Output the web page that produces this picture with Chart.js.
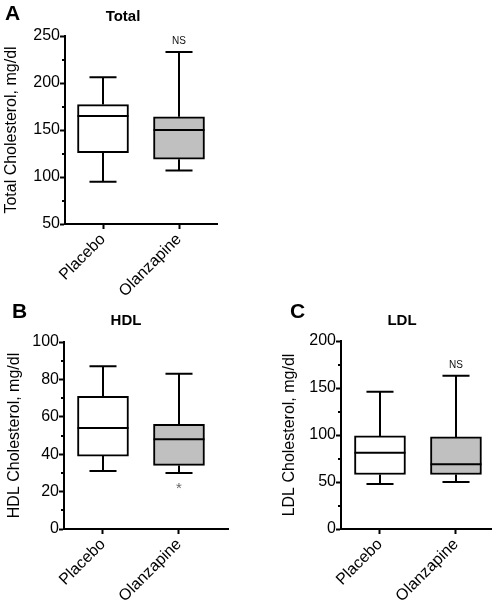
<!DOCTYPE html>
<html>
<head>
<meta charset="utf-8">
<script src="https://cdn.jsdelivr.net/npm/chart.js@4.4.1/dist/chart.umd.min.js"></script>
<style>
  html, body { margin: 0; padding: 0; background: #fff; }
  #wrap { position: relative; width: 498px; height: 602px; overflow: hidden; }
  canvas { position: absolute; }
</style>
</head>
<body>
<div id="wrap">
  <canvas id="chartA" width="249" height="300" style="left:0;top:0"></canvas>
  <canvas id="chartB" width="249" height="302" style="left:0;top:300px"></canvas>
  <canvas id="chartC" width="248" height="302" style="left:250px;top:300px"></canvas>
</div>
<script>
// categories (shared by all three panels)
const categories = ['Placebo', 'Olanzapine'];

// A - total cholesterol (mg/dl)
const totalMin = [95, 107];
const totalQ1 = [126, 119];
const totalMed = [165, 150];
const totalQ3 = [177, 164];
const totalMax = [206, 233];
const totalNote = ['', 'NS'];

// B - HDL cholesterol (mg/dl)
const hdlMin = [31, 30];
const hdlQ1 = [39, 34];
const hdlMed = [54, 48];
const hdlQ3 = [71, 56];
const hdlMax = [87, 83];
const hdlNote = ['', '*'];

// C - LDL cholesterol (mg/dl)
const ldlMin = [48, 50];
const ldlQ1 = [58, 58];
const ldlMed = [81, 69];
const ldlQ3 = [99, 98];
const ldlMax = [146, 163];
const ldlNote = ['', 'NS'];

// y tick ranges
const totalTicks = { min: 50, max: 250, step: 50 };
const hdlTicks = { min: 0, max: 100, step: 20 };
const ldlTicks = { min: 0, max: 200, step: 50 };

const boxColors = ['#ffffff', '#c0c0c0'];
const FONT = "'Liberation Sans', Arial, Helvetica, sans-serif";

Chart.defaults.font.family = FONT;
Chart.defaults.color = '#000';

function makePanel(p) {
    // whiskers, medians, minor ticks, notes, title and panel letter
    const extras = {
        id: 'extras' + p.letter,
        afterDatasetsDraw(chart) {
            const ctx = chart.ctx;
            const xs = chart.scales.x, ys = chart.scales.y;
            const bars = chart.getDatasetMeta(0).data;
            ctx.save();
            ctx.strokeStyle = '#000';
            ctx.lineWidth = 2;
            ctx.lineCap = 'butt';
            categories.forEach((c, i) => {
                const cx = Math.round(xs.getPixelForValue(i));
                const half = bars[i].width / 2;
                const cap = half * 0.53;
                const yMin = ys.getPixelForValue(p.min[i]);
                const yQ1 = ys.getPixelForValue(p.q1[i]);
                const yMed = ys.getPixelForValue(p.med[i]);
                const yQ3 = ys.getPixelForValue(p.q3[i]);
                const yMax = ys.getPixelForValue(p.max[i]);
                ctx.beginPath();
                ctx.moveTo(cx, yQ3); ctx.lineTo(cx, yMax);
                ctx.moveTo(cx - cap, yMax); ctx.lineTo(cx + cap, yMax);
                ctx.moveTo(cx, yQ1); ctx.lineTo(cx, yMin);
                ctx.moveTo(cx - cap, yMin); ctx.lineTo(cx + cap, yMin);
                ctx.moveTo(cx - half, yMed); ctx.lineTo(cx + half, yMed);
                ctx.stroke();

                const note = p.note[i];
                if (note === 'NS') {
                    ctx.fillStyle = '#111';
                    ctx.font = '10px ' + FONT;
                    ctx.textAlign = 'center';
                    ctx.textBaseline = 'middle';
                    ctx.fillText(note, cx, yMax - 11);
                } else if (note) {
                    ctx.fillStyle = '#666';
                    ctx.font = '15px ' + FONT;
                    ctx.textAlign = 'center';
                    ctx.textBaseline = 'middle';
                    ctx.fillText(note, cx, yMin + 16);
                }
            });

            // minor ticks on the y axis
            const left = chart.chartArea.left;
            ctx.beginPath();
            for (let v = p.ticks.min + p.ticks.step / 2; v < p.ticks.max; v += p.ticks.step) {
                const y = Math.round(ys.getPixelForValue(v));
                ctx.moveTo(left - 3, y);
                ctx.lineTo(left, y);
            }
            ctx.stroke();
            ctx.restore();
        },
        afterDraw(chart) {
            const ctx = chart.ctx;
            ctx.save();
            ctx.fillStyle = '#000';
            ctx.textBaseline = 'alphabetic';
            ctx.font = 'bold 15px ' + FONT;
            ctx.textAlign = 'center';
            ctx.fillText(p.title, p.titleX, p.titleY);
            ctx.font = 'bold 21px ' + FONT;
            ctx.textAlign = 'left';
            ctx.fillText(p.letter, p.letterX, p.letterY);
            ctx.restore();
        }
    };

    return new Chart(document.getElementById(p.canvas), {
        type: 'bar',
        data: {
            datasets: [{
                data: categories.map((c, i) => ({ x: i, y: [p.q1[i], p.q3[i]] })),
                backgroundColor: boxColors,
                borderColor: '#000',
                borderWidth: 2,
                borderSkipped: false,
                barThickness: 51
            }]
        },
        options: {
            responsive: false,
            animation: false,
            devicePixelRatio: 1,
            layout: { padding: p.padding },
            plugins: { legend: { display: false }, tooltip: { enabled: false } },
            scales: {
                x: {
                    type: 'linear',
                    offset: false,
                    min: p.xMin,
                    max: p.xMax,
                    afterBuildTicks: (s) => { s.ticks = categories.map((c, i) => ({ value: i })); },
                    afterFit: (s) => { s.height = p.xHeight; },
                    border: { color: '#000', width: 2 },
                    grid: { offset: false, drawOnChartArea: false, drawTicks: true, tickLength: 5, tickWidth: 2, tickColor: '#000' },
                    ticks: {
                        autoSkip: false,
                        maxRotation: 45,
                        minRotation: 45,
                        padding: 1,
                        font: { size: 16 },
                        color: '#000',
                        callback: (v) => categories[v] ?? ''
                    }
                },
                y: {
                    min: p.ticks.min,
                    max: p.ticks.max,
                    afterFit: (s) => { s.width = p.yWidth; },
                    border: { color: '#000', width: 2 },
                    grid: { drawOnChartArea: false, drawTicks: true, tickLength: 5, tickWidth: 2, tickColor: '#000' },
                    ticks: { stepSize: p.ticks.step, padding: 0, font: { size: 16 }, color: '#000' },
                    title: {
                        display: true,
                        text: p.yTitle,
                        font: { size: 16 },
                        color: '#000',
                        padding: { top: p.yTitlePad, bottom: 0 }
                    }
                }
            }
        },
        plugins: [extras]
    });
}

makePanel({
    canvas: 'chartA', letter: 'A', title: 'Total', yTitle: 'Total Cholesterol, mg/dl',
    min: totalMin, q1: totalQ1, med: totalMed, q3: totalQ3, max: totalMax, note: totalNote,
    ticks: totalTicks,
    padding: { top: 36, right: 32, left: 0, bottom: 0 },
    yWidth: 65, xHeight: 76, xMin: -0.5, xMax: 1.5, yTitlePad: 2,
    titleX: 123, titleY: 21, letterX: 5, letterY: 20
});

makePanel({
    canvas: 'chartB', letter: 'B', title: 'HDL', yTitle: 'HDL Cholesterol, mg/dl',
    min: hdlMin, q1: hdlQ1, med: hdlMed, q3: hdlQ3, max: hdlMax, note: hdlNote,
    ticks: hdlTicks,
    padding: { top: 42, right: 21, left: 0, bottom: 0 },
    yWidth: 64, xHeight: 73, xMin: -0.513, xMax: 1.645, yTitlePad: 5,
    titleX: 126, titleY: 25, letterX: 12, letterY: 18
});

makePanel({
    canvas: 'chartC', letter: 'C', title: 'LDL', yTitle: 'LDL Cholesterol, mg/dl',
    min: ldlMin, q1: ldlQ1, med: ldlMed, q3: ldlQ3, max: ldlMax, note: ldlNote,
    ticks: ldlTicks,
    padding: { top: 41, right: 7, left: 0, bottom: 0 },
    yWidth: 91, xHeight: 73, xMin: -0.513, xMax: 1.461, yTitlePad: 30,
    titleX: 152, titleY: 25, letterX: 40, letterY: 18
});
</script>
</body>
</html>
